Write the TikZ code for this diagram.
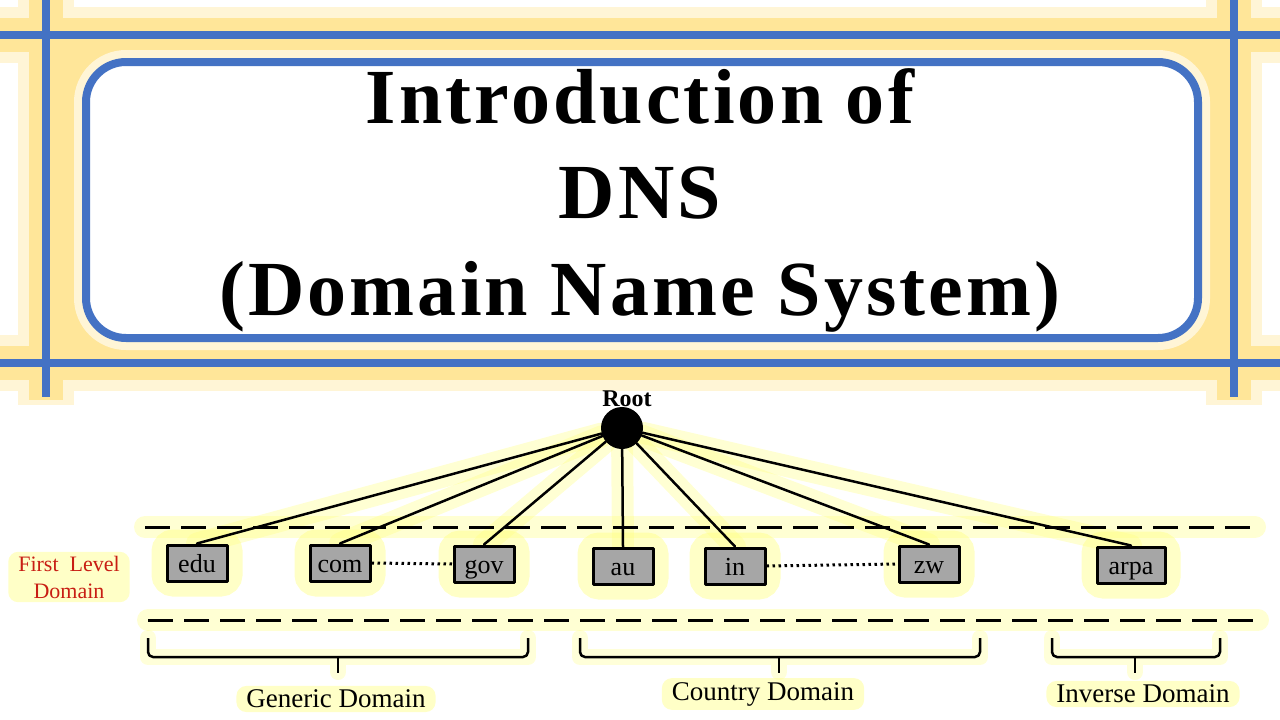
\documentclass[tikz,border=0pt]{standalone}
\usepackage{fontspec}
\setmainfont{Liberation Serif}
\newfontfamily\titlefont[LetterSpace=4]{Liberation Serif}
\usetikzlibrary{backgrounds}
\definecolor{frameblue}{RGB}{68,114,196}
\definecolor{framegold}{RGB}{255,230,153}
\definecolor{glowyellow}{RGB}{255,255,130}
\definecolor{boxgray}{RGB}{166,166,166}
\definecolor{levelred}{RGB}{200,30,20}
\tikzset{
  frameline/.style={frameblue, line width=8pt},
  framehalo/.style={framegold, line width=34pt},
  framesoft/.style={framegold!40, line width=56pt},
  titletext/.style={anchor=base, inner sep=0pt, font=\titlefont\fontsize{78}{84}\selectfont\bfseries},
  dom/.style={draw, line width=3pt, fill=boxgray, minimum width=60pt, minimum height=36pt,
    inner sep=0pt, text height=21pt, text depth=3pt, font=\fontsize{26}{26}\selectfont},
  domglow/.style={draw=glowyellow, line width=28pt, opacity=0.45, rounded corners=8pt},
  link/.style={line width=2.5pt, line cap=round},
  glowline/.style={draw=glowyellow, line width=22pt, opacity=0.35, line cap=round},
  levelline/.style={line width=3pt, dash pattern=on 25pt off 11pt},
  dots/.style={line width=3pt, dash pattern=on 2.5pt off 3.5pt},
  brace/.style={line width=2.5pt, rounded corners=5pt},
  domlabel/.style={fill=glowyellow, fill opacity=0.45, text opacity=1, rounded corners=10pt,
    inner xsep=10pt, inner ysep=4pt, font=\fontsize{27}{27}\selectfont},
  levellabel/.style={domlabel, align=center, text=levelred, font=\fontsize{22}{27}\selectfont}
}
\begin{document}
\begin{tikzpicture}[x=1pt, y=-1pt, line join=round]
\useasboundingbox (0,0) rectangle (1280,720);
% frame with glow
\draw[framesoft] (0,35)--(1280,35) (0,363)--(1280,363) (46,0)--(46,405) (1234,0)--(1234,405);
\draw[framehalo] (0,35)--(1280,35) (0,363)--(1280,363) (46,0)--(46,400) (1234,0)--(1234,400);
\fill[framegold] (46,35) rectangle (1234,363);
\draw[white!60!framegold, line width=24pt, rounded corners=40pt] (86,62) rectangle (1198,338);
\fill[white, rounded corners=40pt] (86,62) rectangle (1198,338);
\draw[frameline] (0,35)--(1280,35) (0,363)--(1280,363) (46,0)--(46,397) (1234,0)--(1234,397);
\draw[frameline, rounded corners=40pt] (86,62) rectangle (1198,338);
% title
\foreach \t/\y [count=\i] in {Introduction of/123, DNS/218, {(Domain Name System)}/315}
  \node[titletext] (title\i) at (640,\y) {\t};
% tree
\node[circle, fill=black, minimum size=42pt, inner sep=0pt] (root) at (622,428) {};
\node[anchor=base, inner sep=0pt, font=\fontsize{24}{24}\selectfont\bfseries] (rootlbl) at (627,406) {Root};
\foreach \n/\x/\y in {edu/197/563, com/340/563, gov/484/564, au/623/566, in/735/566, zw/929/564}
  \node[dom] (\n) at (\x,\y) {\n};
\node[dom, minimum width=68pt] (arpa) at (1131,565) {arpa};
\path
  (145,527) coordinate (topW)
  (1255,527) coordinate (topE)
  (148,620) coordinate (lowW)
  (1258,620) coordinate (lowE)
  ;
\begin{scope}[on background layer]
  \foreach \n in {edu,com,gov,au,in,zw,arpa}
    \draw[domglow] (\n.north west) rectangle (\n.south east);
  \draw[glowline] (topW)--(topE) (lowW)--(lowE);
  \foreach \n in {edu,com,gov,au,in,zw,arpa}
    \draw[glowline] (root)--(\n.north);
  \foreach \n in {edu,com,gov,au,in,zw,arpa}
    \draw[link] (root)--(\n.north);
\end{scope}
\draw[levelline] (topW)--(topE);
\draw[levelline] (lowW)--(lowE);
\draw[dots] (com.east)--(gov.west);
\draw[dots] (in.east)--(zw.west);
% braces
\foreach \a/\m/\b in {148/338/528, 580/779/980, 1052/1135/1220}{
  \draw[glowline, line width=16pt, opacity=0.3] (\a,638) |- (\b,657) -- (\b,638) (\m,657)--(\m,672);
  \draw[brace] (\a,638) |- (\b,657) -- (\b,638);
  \draw[brace] (\m,657) -- (\m,673);
}
\node[domlabel] (generic) at (336,699) {Generic Domain};
\node[domlabel] (country) at (763,694) {Country Domain};
\node[domlabel] (inverse) at (1143,694) {Inverse Domain};
\node[levellabel] (first) at (69,577) {First\ \ Level\\Domain};
\end{tikzpicture}
\end{document}
